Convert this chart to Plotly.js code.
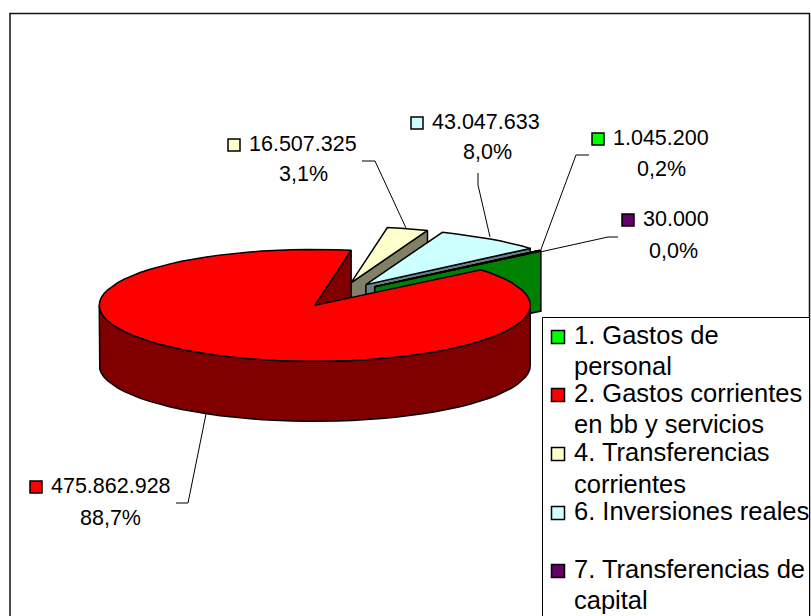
<!DOCTYPE html>
<html><head><meta charset="utf-8">
<script src="https://cdn.plot.ly/plotly-3.0.1.min.js"></script>
<style>html,body{margin:0;padding:0;background:#fff}#c{width:811px;height:616px}</style>
</head><body><div id="c"></div>
<script>
// ---- data ----
const categories = ["1. Gastos de personal","2. Gastos corrientes en bb y servicios","4. Transferencias corrientes","6. Inversiones reales","7. Transferencias de capital"];
const values = [1045200, 475862928, 16507325, 43047633, 30000];
const valueLabels = ["1.045.200","475.862.928","16.507.325","43.047.633","30.000"];
const percentLabels = ["0,2%","88,7%","3,1%","8,0%","0,0%"];
const legendLines = [["1. Gastos de","personal"],["2. Gastos corrientes","en bb y servicios"],["4. Transferencias","corrientes"],["6. Inversiones reales",""],["7. Transferencias de","capital"]];
// ---- styles ----
const topColors  = ["#00FF00","#FF0000","#FFFFCC","#CCFFFF","#660066"];
const sideColors = ["#008000","#800000","#808066","#668080","#330033"];
// ---- pie geometry ----
const C = {x:338.5, y:294.7}, RX = 215.5, RY = 56, DEPTH = 60, EXPLODE = 0.22, FIRST = 49.7;
const total = values.reduce((a,b)=>a+b,0);
const rad = d => d*Math.PI/180;
function arc(cx,cy,a,b,dy){const n=Math.max(1,Math.ceil(Math.abs(b-a)/4)),p=[];
  for(let i=0;i<=n;i++){const t=rad(a+(b-a)*i/n);p.push([cx+RX*Math.sin(t),cy-RY*Math.cos(t)+(dy||0)]);}
  return p;}
function poly(pts,color){const q=pts.concat([pts[0]]);
  return {type:'scatter',mode:'lines',x:q.map(p=>p[0]),y:q.map(p=>p[1]),fill:'toself',fillcolor:color,
    line:{color:'#000',width:1.5},hoverinfo:'skip',showlegend:false};}
let cum=FIRST; const slices=values.map((v,i)=>{const a=cum,b=cum+360*v/total;cum=b;
  const m=rad((a+b)/2);
  return {i,a,b,cx:C.x+EXPLODE*RX*Math.sin(m),cy:C.y-EXPLODE*RY*Math.cos(m)};});
function sliceTraces(s){const out=[];
  const rimEnd=arc(s.cx,s.cy,s.b,s.b,0)[0];
  out.push(poly([[s.cx,s.cy],rimEnd,[rimEnd[0],rimEnd[1]+DEPTH],[s.cx,s.cy+DEPTH]],sideColors[s.i]));
  // outer wall: only the part facing the viewer (front half of the ellipse)
  for(const k of [0,360]){
    const a=Math.max(s.a,90+k),b=Math.min(s.b,270+k);
    if(b>a){const up=arc(s.cx,s.cy,a,b,0),dn=arc(s.cx,s.cy,a,b,DEPTH).reverse();
      out.push(poly(up.concat(dn),sideColors[s.i]));}
  }
  out.push(poly([[s.cx,s.cy]].concat(arc(s.cx,s.cy,s.a,s.b,0)),topColors[s.i]));
  return out;}
const order=[2,3,4,0,1];
const traces=[];
order.forEach(i=>traces.push(...sliceTraces(slices[i])));

// leader lines
const leaders=[[[589,155],[576,155],[540,252]],[[176,503],[188,503],[206,414]],[[362,161],[375,161],[406,228]],[[478,173],[478,185],[490,237]],[[618,237],[608,237],[540,252]]];
leaders.forEach(l=>traces.push({type:'scatter',mode:'lines',x:l.map(p=>p[0]),y:l.map(p=>p[1]),line:{color:'#000',width:1},hoverinfo:'skip',showlegend:false}));

const annotations=[];
const FONT='"Liberation Sans",Arial,sans-serif';
function txt(x,y,t,size,anchor){annotations.push({x,y,xref:'x',yref:'y',text:t,showarrow:false,xanchor:anchor||'left',yanchor:'middle',
  font:{family:FONT,size,color:'#000'}});}
// data labels
const labelPos=[[598,139,661,169],[36,487,110,518],[234,145,303,174],[417,123,487,152],[628,220,673,251]];
const swX=[],swY=[],swC=[];
labelPos.forEach((p,i)=>{swX.push(p[0]);swY.push(p[1]);swC.push(topColors[i]);
  txt(p[0]+13,p[1]-1,valueLabels[i],21.5);
  txt(p[2],p[3],percentLabels[i],21.5,'center');});
// legend
const legendY=[[335,366],[393,424],[452,484],[511,541],[569,600]];
legendLines.forEach((ls,i)=>{swX.push(558);swY.push(legendY[i][0]+2);swC.push(topColors[i]);
  ls.forEach((t,j)=>{if(t)txt(572,legendY[i][j],t,25.5);});});
traces.push({type:'scatter',mode:'markers',x:swX,y:swY,marker:{symbol:'square',opacity:1,size:swX.map((x,i)=>i<5?12:13),color:swC,line:{color:'#000',width:1.5}},hoverinfo:'skip',showlegend:false});

const shapes=[
 {type:'rect',xref:'x',yref:'y',x0:10,y0:13.5,x1:809.5,y1:640,line:{color:'#111',width:1.5},fillcolor:'rgba(0,0,0,0)',layer:'below'},
 {type:'rect',xref:'x',yref:'y',x0:542.5,y0:317.5,x1:809.5,y1:640,line:{color:'#000',width:1},fillcolor:'#fff',layer:'below'}
];
Plotly.newPlot('c',traces,{width:811,height:616,margin:{l:0,r:0,t:0,b:0},paper_bgcolor:'#fff',plot_bgcolor:'#fff',
 xaxis:{range:[0,811],visible:false,fixedrange:true},yaxis:{range:[616,0],visible:false,fixedrange:true},
 showlegend:false,annotations,shapes},{staticPlot:true,displayModeBar:false});
</script></body></html>
